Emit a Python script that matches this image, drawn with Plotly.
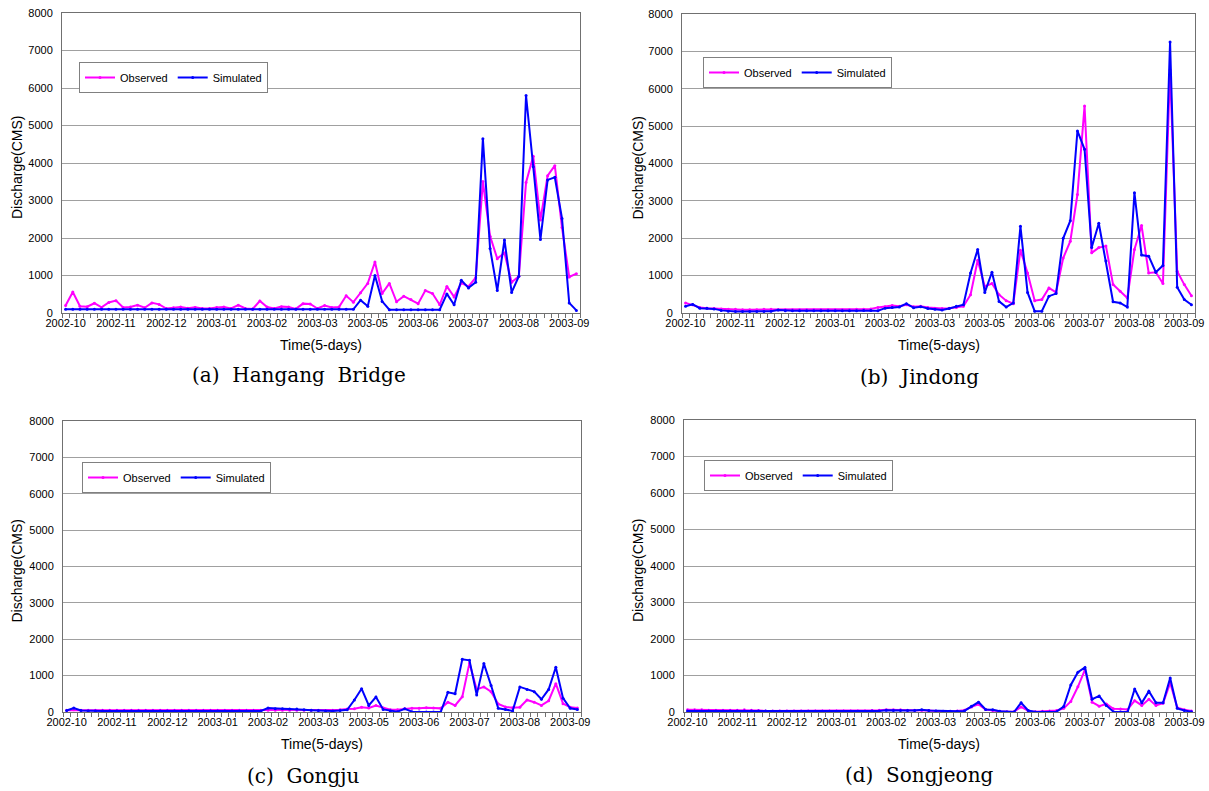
import plotly.graph_objects as go

# ---------------- data (72 five-day periods, Oct 2002 - Sep 2003) ----------------
tick_labels = ["2002-10", "2002-11", "2002-12", "2003-01", "2003-02", "2003-03",
               "2003-05", "2003-06", "2003-07", "2003-08", "2003-09"]
tick_positions = [0, 7, 14, 21, 28, 35, 42, 49, 56, 63, 70]
periods = list(range(72))

hangang_obs = [200, 560, 180, 170, 260, 150, 280, 330, 150, 160, 210, 140, 270, 230, 120, 140,
               160, 130, 150, 120, 120, 150, 160, 120, 210, 120, 110, 320, 160, 120, 170, 160,
               110, 250, 240, 120, 200, 150, 160, 460, 290, 540, 790, 1360, 520, 790, 300, 450,
               360, 250, 600, 520, 220, 710, 430, 800, 710, 940, 3510, 2050, 1450, 1600, 820, 980,
               3480, 4180, 2480, 3660, 3930, 2280, 960, 1050]
hangang_sim = [100, 100, 100, 100, 100, 100, 100, 100, 100, 100, 100, 100, 100, 100, 100, 100,
               100, 100, 100, 100, 100, 100, 100, 100, 100, 100, 100, 100, 100, 100, 100, 100,
               100, 100, 100, 100, 100, 100, 100, 100, 100, 340, 180, 1000, 310, 90, 90, 90,
               90, 90, 90, 90, 90, 510, 220, 875, 670, 820, 4650, 1720, 600, 1950, 550, 980,
               5800, 3900, 1960, 3550, 3620, 2520, 270, 70]

jindong_obs = [270, 220, 150, 130, 120, 110, 100, 100, 90, 90, 90, 100, 100, 90, 90, 90,
               90, 90, 90, 90, 90, 90, 90, 90, 100, 100, 110, 150, 170, 200, 180, 220,
               170, 180, 150, 130, 120, 130, 150, 180, 490, 1410, 710, 790, 490, 330, 250, 1680,
               1070, 330, 360, 670, 550, 1470, 1920, 3170, 5540, 1610, 1750, 1790, 760, 580, 400, 1700,
               2340, 1070, 1090, 790, 6500, 1120, 760, 460]
jindong_sim = [180, 230, 130, 130, 110, 70, 50, 40, 40, 40, 40, 40, 50, 80, 60, 60,
               60, 60, 60, 60, 60, 60, 60, 60, 60, 70, 70, 60, 130, 150, 160, 250,
               140, 170, 120, 100, 80, 120, 180, 220, 1070, 1700, 550, 1090, 310, 160, 270, 2320,
               550, 50, 50, 450, 520, 2000, 2470, 4870, 4380, 1750, 2400, 1390, 300, 270, 160, 3220,
               1550, 1520, 1090, 1270, 7250, 690, 360, 220]

gongju_obs = [50, 60, 50, 50, 50, 50, 50, 50, 50, 50, 50, 50, 50, 50, 50, 50,
              50, 50, 50, 50, 50, 50, 50, 50, 50, 50, 50, 50, 50, 50, 50, 50,
              50, 50, 50, 50, 40, 50, 60, 80, 90, 130, 110, 180, 110, 60, 60, 90,
              100, 100, 120, 110, 100, 270, 180, 420, 1350, 620, 690, 560, 220, 140, 120, 130,
              330, 270, 180, 310, 780, 230, 130, 110]
gongju_sim = [40, 110, 40, 30, 30, 30, 30, 30, 30, 30, 30, 30, 30, 30, 30, 30,
              30, 30, 30, 30, 30, 30, 30, 30, 30, 30, 30, 30, 110, 90, 90, 80,
              80, 60, 50, 40, 30, 30, 40, 60, 330, 640, 180, 410, 70, 30, 10, 90,
              10, 0, 0, 0, 0, 540, 500, 1450, 1420, 470, 1330, 730, 100, 70, 30, 690,
              620, 560, 350, 620, 1230, 380, 100, 70]

songjeong_obs = [60, 60, 60, 50, 50, 50, 50, 50, 60, 50, 40, 30, 30, 30, 30, 30,
                 30, 30, 30, 30, 30, 30, 30, 30, 30, 30, 40, 50, 60, 60, 60, 50,
                 50, 50, 40, 30, 20, 20, 30, 50, 140, 210, 70, 40, 20, 10, 10, 140,
                 30, 10, 20, 30, 40, 100, 290, 690, 1160, 270, 160, 220, 90, 80, 70, 310,
                 180, 350, 180, 240, 800, 120, 60, 30]
songjeong_sim = [30, 30, 30, 30, 30, 30, 30, 30, 30, 30, 30, 30, 20, 20, 20, 20,
                 20, 20, 20, 20, 20, 20, 20, 20, 20, 20, 30, 30, 50, 40, 40, 40,
                 40, 60, 40, 30, 20, 20, 20, 30, 160, 270, 70, 60, 20, 0, 0, 250,
                 40, 0, 0, 0, 10, 150, 740, 1090, 1220, 350, 440, 180, 10, 0, 0, 630,
                 250, 570, 250, 250, 930, 100, 40, 10]

captions = ["(a)  Hangang  Bridge", "(b)  Jindong", "(c)  Gongju", "(d)  Songjeong"]
series = [(hangang_obs, hangang_sim), (jindong_obs, jindong_sim),
          (gongju_obs, gongju_sim), (songjeong_obs, songjeong_sim)]

# ---------------- layout geometry (pixels) ----------------
W, H = 1209, 791
# plot boxes: left, right, top, bottom
boxes = [(62, 580, 13, 313), (682, 1195, 14, 313), (63, 581, 421, 712), (684, 1195, 420, 712)]
legend_pos = [(79, 62), (703, 57), (82, 462), (704, 460)]
caption_pos = [(299, 375), (919, 377), (303, 776), (919, 775)]
ytitle_x = [17, 638, 16, 638]

def px(x):
    return x / W

def py(y):
    return 1 - y / H

fig = go.Figure()
annotations = []
tick_font = dict(family="Liberation Sans, Arial, sans-serif", size=11, color="black")

for k, ((obs, sim), (l, r, t, b)) in enumerate(zip(series, boxes)):
    n = k + 1
    xa = "x" if n == 1 else f"x{n}"
    ya = "y" if n == 1 else f"y{n}"
    leg = "legend" if n == 1 else f"legend{n}"
    fig.add_trace(go.Scatter(x=periods, y=obs, mode="lines+markers", name="Observed",
                             line=dict(color="#FF00FF", width=2),
                             marker=dict(size=3, color="#FF00FF"),
                             xaxis=xa, yaxis=ya, legend=leg))
    fig.add_trace(go.Scatter(x=periods, y=sim, mode="lines+markers", name="Simulated",
                             line=dict(color="#0000FF", width=2),
                             marker=dict(size=3, color="#0000FF"),
                             xaxis=xa, yaxis=ya, legend=leg))
    xkey = "xaxis" if n == 1 else f"xaxis{n}"
    ykey = "yaxis" if n == 1 else f"yaxis{n}"
    fig.layout[xkey] = dict(domain=[px(l), px(r)], anchor=ya, range=[-0.5, 71.5],
                            tickvals=tick_positions, ticktext=tick_labels, ticks="",
                            tickfont=tick_font, showgrid=False, zeroline=False,
                            showline=True, mirror=True, linecolor="#707070", linewidth=1,
                            minor=dict(tick0=-0.5, dtick=1, ticks="outside", ticklen=4,
                                       tickcolor="#707070", showgrid=False),
                            automargin=False, fixedrange=True)
    fig.layout[ykey] = dict(domain=[py(b), py(t)], anchor=xa, range=[0, 8000], dtick=1000,
                            tickfont=tick_font, ticks="", ticklabelstandoff=6,
                            showgrid=True, gridcolor="#a0a0a0", gridwidth=1,
                            zeroline=False, showline=True, mirror=True,
                            linecolor="#707070", linewidth=1, automargin=False,
                            fixedrange=True)
    lx, ly = legend_pos[k]
    fig.layout[leg] = dict(x=px(lx), y=py(ly), xanchor="left", yanchor="top",
                           orientation="h", bgcolor="white", bordercolor="#808080",
                           borderwidth=1, font=dict(family="Liberation Sans, Arial, sans-serif",
                                                     size=11, color="black"),
                           itemwidth=30, tracegroupgap=0)
    # axis titles
    annotations.append(dict(x=px((l + r) / 2), y=py(b + 32), xref="paper", yref="paper",
                            text="Time(5-days)", showarrow=False, xanchor="center",
                            yanchor="middle",
                            font=dict(family="Liberation Sans, Arial, sans-serif", size=14,
                                      color="black")))
    annotations.append(dict(x=px(ytitle_x[k]), y=py((t + b) / 2 + 5), xref="paper",
                            yref="paper", text="Discharge(CMS)", textangle=-90,
                            showarrow=False, xanchor="center", yanchor="middle",
                            font=dict(family="Liberation Sans, Arial, sans-serif", size=14,
                                      color="black")))
    cx, cy = caption_pos[k]
    annotations.append(dict(x=px(cx), y=py(cy), xref="paper", yref="paper",
                            text=captions[k], showarrow=False, xanchor="center",
                            yanchor="middle",
                            font=dict(family="DejaVu Serif, serif", size=20, color="black")))

fig.update_layout(width=W, height=H, margin=dict(l=0, r=0, t=0, b=0, autoexpand=False),
                  paper_bgcolor="white", plot_bgcolor="white",
                  annotations=annotations, showlegend=True)

fig.write_html("out.html", config={"displayModeBar": False},
               post_script="document.body.style.margin='0';"
                           "document.body.style.overflow='hidden';")
